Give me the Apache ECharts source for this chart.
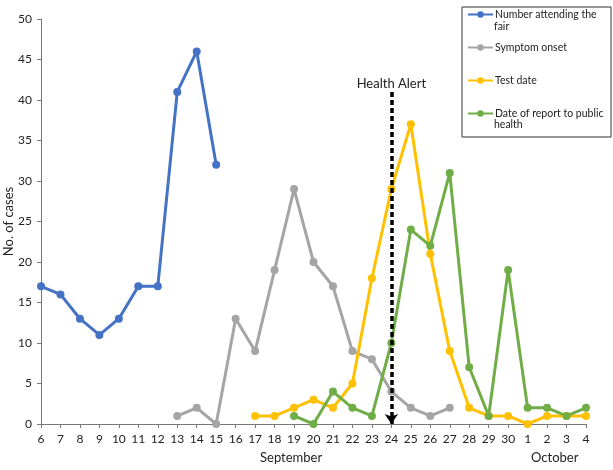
<!DOCTYPE html>
<html>
<head>
<meta charset="utf-8">
<script src="https://cdn.jsdelivr.net/npm/echarts@6/dist/echarts.min.js"></script>
<style>
  html, body { margin: 0; padding: 0; background: #fff; }
  #chart { width: 613px; height: 470px; }
</style>
</head>
<body>
<div id="chart"></div>
<script>
// days: 6..30 September, 1..4 October
var days = ['6','7','8','9','10','11','12','13','14','15','16','17','18','19','20',
            '21','22','23','24','25','26','27','28','29','30','1','2','3','4'];
var fair     = [17,16,13,11,13,17,17,41,46,32,'-','-','-','-','-','-','-','-','-','-','-','-','-','-','-','-','-','-','-'];
var onset    = ['-','-','-','-','-','-','-',1,2,0,13,9,19,29,20,17,9,8,4,2,1,2,'-','-','-','-','-','-','-'];
var testDate = ['-','-','-','-','-','-','-','-','-','-','-',1,1,2,3,2,5,18,29,37,21,9,2,1,1,0,1,1,1];
var report   = ['-','-','-','-','-','-','-','-','-','-','-','-','-',1,0,4,2,1,10,24,22,31,7,1,19,2,2,1,2];
var seriesNames = ['Number attending the fair','Symptom onset','Test date','Date of report to public health'];
var colors = ['#4472C4','#A5A5A5','#FFC000','#70AD47'];
var alertDay = '24';
var alertTop = 41;

var font = 'Lato, "Open Sans", sans-serif';

function lineSeries(name, data, color) {
    return {
        name: name,
        type: 'line',
        data: data,
        symbol: 'circle',
        symbolSize: 8,
        connectNulls: false,
        lineStyle: { width: 3, color: color },
        itemStyle: { color: color }
    };
}

var series = [
    lineSeries(seriesNames[0], fair, colors[0]),
    lineSeries(seriesNames[1], onset, colors[1]),
    lineSeries(seriesNames[2], testDate, colors[2]),
    lineSeries(seriesNames[3], report, colors[3])
];
// health alert arrow
series[3].markLine = {
    silent: true,
    symbol: ['none', 'arrow'],
    symbolSize: [10, 10],
    lineStyle: { color: '#000', type: [5, 3], width: 3.5 },
    label: {
        show: true, position: 'start', formatter: 'Health Alert',
        color: '#222', fontSize: 13, fontFamily: font, distance: 2
    },
    data: [[{ coord: [alertDay, alertTop] }, { coord: [alertDay, 0] }]]
};

var opt = {
    animation: false,
    color: colors,
    grid: { left: 41, right: 27, top: 19, bottom: 46, containLabel: false, outerBoundsMode: 'none' },
    legend: {
        orient: 'vertical',
        left: 467, top: 9,
        padding: 0,
        itemWidth: 25, itemHeight: 8,
        itemGap: 22,
        textStyle: { fontSize: 10.5, fontFamily: font, color: '#222', padding: [0, 0, 0, -3] },
        formatter: function (n) {
            if (n === seriesNames[0]) return 'Number attending the';
            if (n === seriesNames[3]) return 'Date of report to public';
            return n;
        },
        data: seriesNames
    },
    xAxis: {
        type: 'category',
        data: days,
        boundaryGap: false,
        axisLine: { lineStyle: { color: '#777', width: 1 } },
        axisTick: { show: true, length: 4, alignWithLabel: true, lineStyle: { color: '#777' } },
        axisLabel: { color: '#222', fontSize: 12, fontFamily: font, margin: 9, interval: 0 }
    },
    yAxis: {
        type: 'value',
        min: 0, max: 50, interval: 5,
        name: 'No. of cases',
        nameLocation: 'middle',
        nameGap: 26,
        nameMoveOverlap: false,
        nameTextStyle: { color: '#222', fontSize: 13, fontFamily: font },
        axisLine: { show: true, lineStyle: { color: '#777', width: 1 } },
        axisTick: { show: true, length: 4, lineStyle: { color: '#777' } },
        splitLine: { show: false },
        axisLabel: { color: '#222', fontSize: 12, fontFamily: font, margin: 9 }
    },
    graphic: [
        { type: 'rect', left: 459.5, top: 4.5, shape: { width: 149, height: 130 },
          style: { fill: 'none', stroke: '#333', lineWidth: 1 }, z: -1 },
        { type: 'text', left: 494, top: 21, style: { text: 'fair', fill: '#222', font: '10.5px ' + font } },
        { type: 'text', left: 494, top: 119, style: { text: 'health', fill: '#222', font: '10.5px ' + font } },
        { type: 'text', left: 260, top: 451, style: { text: 'September', fill: '#222', font: '13px ' + font } },
        { type: 'text', left: 531, top: 451, style: { text: 'October', fill: '#222', font: '13px ' + font } }
    ],
    series: series
};

setOption('chart', opt);

function setOption(ident, opt) {
    // init chart on the div and apply options
    let myChart = echarts.init(document.getElementById(ident));
    myChart.setOption(opt);
}
</script>
</body>
</html>
